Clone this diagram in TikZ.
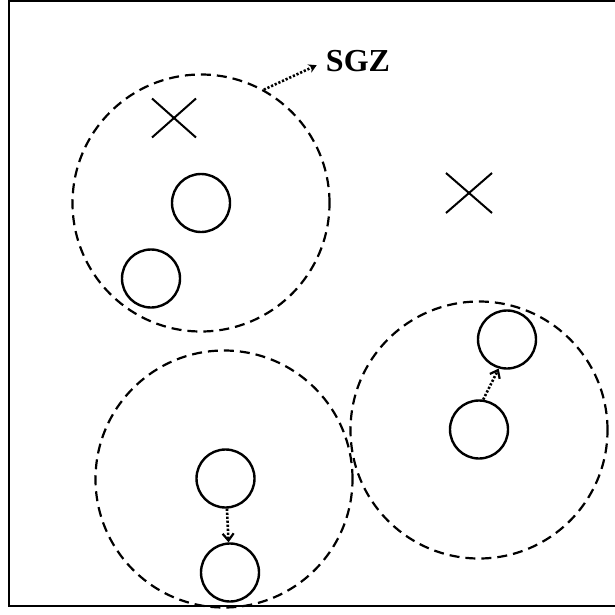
\documentclass[tikz,border=0pt]{standalone}
\usepackage{fontspec}
\setmainfont{Liberation Serif}
\usetikzlibrary{arrows.meta}
\begin{document}
\begin{tikzpicture}[x=1pt,y=-1pt,
  zone/.style={circle,draw,line width=2.2pt,dash pattern=on 10pt off 6pt,minimum size=257pt,inner sep=0pt},
  unit/.style={circle,draw,line width=2.4pt,minimum size=58pt,inner sep=0pt},
  target/.style={line width=2pt},
  moveto/.style={line width=2.6pt,dash pattern=on 2.2pt off 1.8pt,-{Straight Barb[length=7pt,width=11pt,line width=2.2pt]}},
  sgzarrow/.style={line width=2.6pt,dash pattern=on 2.2pt off 1.8pt,-{Stealth[length=8pt,width=9pt]}}]
\useasboundingbox (0,0) rectangle (614,615);
% outer frame
\draw[line width=2.4pt] (9,0.5) -- (616,0.5) -- (616,606) -- (9,606) -- cycle;

% safe zones
\node[zone] (g1) at (201,203) {};
\node[zone] (g2) at (224,479) {};
\node[zone] (g3) at (479,430) {};

% units
\node[unit] (s1) at (201,203) {};
\node[unit] (s2) at (151,278.5) {};
\node[unit] (s3) at (225.5,478.5) {};
\node[unit] (s4) at (230,572.5) {};
\node[unit] (s5) at (507,339.5) {};
\node[unit] (s6) at (479,429.5) {};

% targets
\coordinate (x1) at (174,118);
\coordinate (x2) at (469,193);
\draw[target] ([shift={(-22,-19.5)}]x1) -- ([shift={(22,19.5)}]x1)
              ([shift={(-22,19.5)}]x1) -- ([shift={(22,-19.5)}]x1);
\draw[target] ([shift={(-23,-20)}]x2) -- ([shift={(23,20)}]x2)
              ([shift={(-23,20)}]x2) -- ([shift={(23,-20)}]x2);

% label
\node[inner sep=0pt,anchor=center,font=\fontsize{32}{32}\selectfont\bfseries] (sgz) at (358,61) {SGZ};
\draw[sgzarrow,shorten >=10pt] (g1.61) -- (sgz.west);

% movements
\draw[moveto] (s3) -- (s4);
\draw[moveto] (s6.82) -- (s5.254);
\end{tikzpicture}
\end{document}
